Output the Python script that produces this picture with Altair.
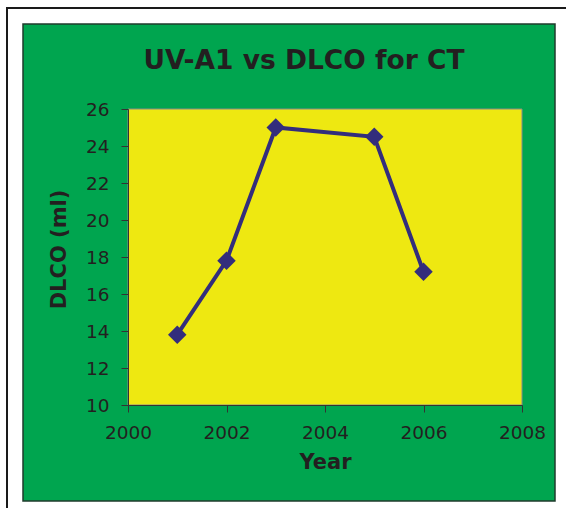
import altair as alt
import pandas as pd

years = [2001, 2002, 2003, 2005, 2006]
dlco = [13.8, 17.8, 25.0, 24.5, 17.2]
x_ticks = [2000, 2002, 2004, 2006, 2008]
y_ticks = [10, 12, 14, 16, 18, 20, 22, 24, 26]
title_text = "UV-A1 vs DLCO for CT"

FONT = "DejaVu Sans"
TXT = "#231F20"
W, H = 394, 296

df = pd.DataFrame({"Year": years, "DLCO": dlco})
one = pd.DataFrame({"a": [0]})

frame = alt.Chart(one).mark_rect(fill="white", stroke="#1a1a1a", strokeWidth=2).encode(
    x=alt.value(-121), x2=alt.value(460), y=alt.value(-101), y2=alt.value(420)
)
green = alt.Chart(one).mark_rect(fill="#00A54F", stroke="#1f3b2c", strokeWidth=1.5).encode(
    x=alt.value(-105), x2=alt.value(427), y=alt.value(-85), y2=alt.value(392)
)
yellow = alt.Chart(one).mark_rect(fill="#EEE811", stroke="#8a8a8a", strokeWidth=1).encode(
    x=alt.value(0), x2=alt.value(W), y=alt.value(0), y2=alt.value(H)
)
title = alt.Chart(pd.DataFrame({"t": [title_text]})).mark_text(
    font=FONT, fontSize=26.5, fontWeight="bold", color=TXT,
    align="center", baseline="alphabetic"
).encode(text="t:N", x=alt.value(176), y=alt.value(-40))

xenc = alt.X(
    "Year:Q",
    scale=alt.Scale(domain=[2000, 2008], nice=False, zero=False),
    axis=alt.Axis(values=x_ticks, format="d", title="Year", zindex=1,
                  labelOverlap=False, labelFlush=False, tickCount=5),
)
yenc = alt.Y(
    "DLCO:Q",
    scale=alt.Scale(domain=[10, 26], nice=False, zero=False),
    axis=alt.Axis(values=y_ticks, title="DLCO (ml)", zindex=1, titleY=140,
                  labelOverlap=False, labelFlush=False, labelBound=False,
                  tickCount=9),
)

line = alt.Chart(df).mark_line(color="#332D7C", strokeWidth=4).encode(x=xenc, y=yenc)
pts = alt.Chart(df).mark_point(
    shape="diamond", filled=True, size=340, color="#332D7C", opacity=1
).encode(x=xenc, y=yenc)

chart = (
    alt.layer(frame, green, yellow, title, line, pts)
    .properties(
        width=W,
        height=H,
        padding={"left": 128, "top": 109, "right": 44, "bottom": 103},
        autosize=alt.AutoSizeParams(type="none"),
        background="white",
    )
    .configure_view(stroke=None)
    .configure_axis(
        labelFont=FONT,
        labelFontSize=18.5,
        labelColor=TXT,
        titleFont=FONT,
        titleFontSize=21,
        titleFontWeight="bold",
        titleColor=TXT,
        domainColor="#333333",
        domainWidth=1,
        tickColor="#333333",
        tickSize=7,
        grid=False,
    )
    .configure_axisY(labelPadding=12, titlePadding=16)
    .configure_axisX(labelPadding=11, titlePadding=10)
)

chart.save("out.html", embed_options={"renderer": "svg", "actions": False})
